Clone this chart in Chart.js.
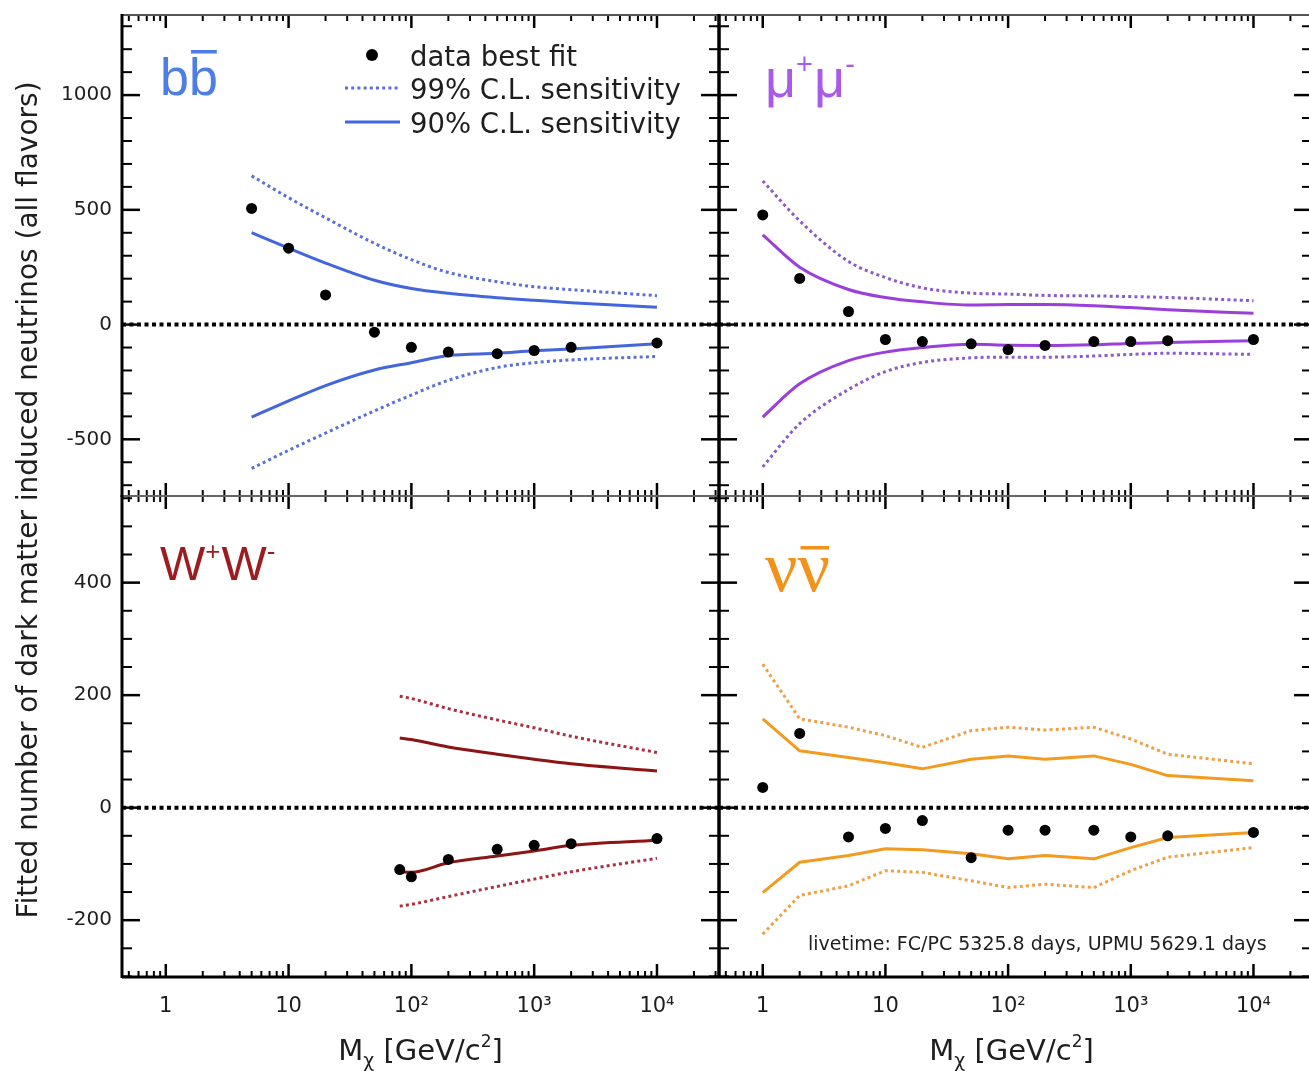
<!DOCTYPE html>
<html>
<head>
<meta charset="utf-8">
<script src="https://cdn.jsdelivr.net/npm/chart.js@4.4.1/dist/chart.umd.min.js"></script>
<style>
  html, body { margin: 0; padding: 0; background: #fff; overflow: hidden; }
  #wrap { position: relative; width: 1330px; height: 1071px; }
  #wrap canvas { position: absolute; left: 0; top: 0; }
</style>
</head>
<body>
<div id="wrap">
  <canvas id="pBB" width="1330" height="1071"></canvas>
  <canvas id="pMM" width="1330" height="1071"></canvas>
  <canvas id="pWW" width="1330" height="1071"></canvas>
  <canvas id="pNN" width="1330" height="1071"></canvas>
</div>
<script>
// ---- axis ticks ----
const xTickValues = [1, 10, 100, 1000, 10000];
const xTickLabels = ['1', '10', '10²', '10³', '10⁴'];
const yTicksTop = [-500, 0, 500, 1000];
const yTicksBottom = [-200, 0, 200, 400];

// ---- b bbar channel ----
const massBB = [5, 10, 20, 50, 100, 200, 500, 1000, 2000, 10000];
const fitBB = [506, 333, 129, -33, -99, -120, -127, -113, -99, -80];
const up90BB = [401, 333, 268, 193, 157, 136, 117, 106, 95, 76];
const lo90BB = [-403, -333, -266, -198, -166, -135, -125, -114, -106, -84];
const up99BB = [648, 553, 465, 354, 283, 227, 187, 165, 152, 126];
const lo99BB = [-627, -548, -473, -376, -307, -243, -187, -166, -154, -139];

// ---- mu+ mu- channel ----
const massMM = [1, 2, 5, 10, 20, 50, 100, 200, 500, 1000, 2000, 10000];
const fitMM = [478, 201, 57, -65, -74, -84, -109, -91, -74, -74, -70, -65];
const up90MM = [391, 250, 153, 118, 99, 85, 87, 87, 82, 74, 65, 49];
const lo90MM = [-403, -258, -157, -120, -100, -86, -90, -91, -88, -82, -78, -70];
const up99MM = [626, 452, 275, 205, 160, 137, 133, 127, 125, 122, 118, 104];
const lo99MM = [-620, -432, -283, -205, -165, -145, -142, -142, -137, -130, -125, -130];

// ---- W+ W- channel ----
const massWW = [80.4, 100, 200, 500, 1000, 2000, 10000];
const fitWW = [-110, -123, -92, -74, -67, -64, -55];
const up90WW = [124, 121, 108, 95, 86, 78, 65];
const lo90WW = [-114, -115, -98, -86, -77, -67, -58];
const up99WW = [198, 194, 176, 156, 142, 127, 98];
const lo99WW = [-175, -172, -158, -140, -127, -114, -90];

// ---- nu nubar channel ----
const massNN = [1, 2, 5, 10, 20, 50, 100, 200, 500, 1000, 2000, 10000];
const fitNN = [36, 132, -52, -37, -23, -89, -40, -40, -40, -52, -50, -44];
const up90NN = [158, 101, 89, 80, 69, 86, 92, 86, 92, 77, 57, 48];
const lo90NN = [-151, -97, -85, -73, -75, -82, -91, -85, -91, -71, -53, -44];
const up99NN = [255, 158, 143, 128, 107, 137, 143, 138, 143, 122, 95, 78];
const lo99NN = [-225, -156, -139, -112, -115, -130, -142, -136, -142, -112, -88, -71];

const SANS = '"DejaVu Sans", "Liberation Sans", sans-serif';
const ARIAL = '"Liberation Sans", Arial, sans-serif';
const SERIF = '"Liberation Serif", "DejaVu Serif", serif';
const INK = '#1e1e1e';

const COL = {
  bb: { solid: '#4466dd', dotted: '#5b70d6', label: '#4d7de6' },
  mm: { solid: '#9b3fdc', dotted: '#8d5ac8', label: '#a95ae8' },
  ww: { solid: '#8c1414', dotted: '#a8303f', label: '#9c1c1f' },
  nn: { solid: '#f39b1f', dotted: '#eea046', label: '#f2921a' }
};

const W = 1330, H = 1071;

function pts(mass, vals) { return mass.map((m, i) => ({ x: m, y: vals[i] })); }

function panelSets(mass, fit, up90, lo90, up99, lo99, col, smooth) {
  const line = (vals, color, dash) => ({
    data: pts(mass, vals), borderColor: color, borderWidth: 3, borderDash: dash,
    pointRadius: 0, fill: false, tension: 0,
    cubicInterpolationMode: smooth ? 'monotone' : 'default',
    borderCapStyle: 'butt', borderJoinStyle: 'round'
  });
  return [
    { data: pts(mass, fit), showLine: false, pointRadius: 5.5, pointHoverRadius: 5.5,
      pointBackgroundColor: '#000', pointBorderWidth: 0 },
    line(up90, col.solid, []), line(lo90, col.solid, []),
    line(up99, col.dotted, [3, 3.2]), line(lo99, col.dotted, [3, 3.2])
  ];
}

function seg(ctx, x1, y1, x2, y2) {
  ctx.beginPath(); ctx.moveTo(x1, y1); ctx.lineTo(x2, y2); ctx.stroke();
}

// inward tick marks on all four sides plus the frame
function drawFrame(chart, cfg) {
  const { ctx, chartArea: a, scales: { x, y } } = chart;
  ctx.strokeStyle = '#000';
  ctx.lineCap = 'butt';
  for (let v = Math.ceil(y.min / cfg.yMinor) * cfg.yMinor; v <= y.max; v += cfg.yMinor) {
    const p = y.getPixelForValue(v);
    const major = Math.abs(v % cfg.yMajor) < 1e-9;
    ctx.lineWidth = major ? 2.5 : 2;
    const len = major ? 18 : 10;
    seg(ctx, a.left, p, a.left + len, p);
    seg(ctx, a.right, p, a.right - len, p);
  }
  for (let d = -1; d <= 4; d++) {
    for (let k = 1; k <= 9; k++) {
      const v = k * Math.pow(10, d);
      if (v < x.min || v > x.max) continue;
      const p = x.getPixelForValue(v);
      const major = k === 1;
      ctx.lineWidth = major ? 2.5 : 2;
      const len = major ? 13 : 6;
      seg(ctx, p, a.top, p, a.top + len);
      seg(ctx, p, a.bottom, p, a.bottom - len);
    }
  }
  const b = cfg.border;
  ctx.lineWidth = b.top[0]; ctx.strokeStyle = b.top[1]; seg(ctx, a.left, a.top, a.right, a.top);
  ctx.lineWidth = b.bottom[0]; ctx.strokeStyle = b.bottom[1]; seg(ctx, a.left, a.bottom, a.right, a.bottom);
  ctx.lineWidth = b.left[0]; ctx.strokeStyle = b.left[1]; seg(ctx, a.left, a.top - 1, a.left, a.bottom + 1);
  ctx.lineWidth = b.right[0]; ctx.strokeStyle = b.right[1]; seg(ctx, a.right, a.top - 1, a.right, a.bottom + 1);
}

function decor(cfg) {
  return {
    id: 'decor_' + cfg.id,
    beforeDatasetsDraw(chart) {
      const { ctx, chartArea: a, scales: { y } } = chart;
      const y0 = y.getPixelForValue(0);
      ctx.save();
      ctx.strokeStyle = '#000'; ctx.lineWidth = 4; ctx.setLineDash([4, 3.5]);
      seg(ctx, a.left, y0, a.right, y0);
      ctx.restore();
    },
    afterDraw(chart) {
      const { ctx } = chart;
      ctx.save();
      drawFrame(chart, cfg);
      ctx.restore();
      if (cfg.extra) { ctx.save(); cfg.extra(ctx, chart); ctx.restore(); }
    }
  };
}

function xTitle(ctx, cx, base) {
  const big = '29px ' + SANS, sub = '19px ' + SANS, sup = '17px ' + SANS;
  const parts = [['M', big, 0], ['χ', sub, 7], [' [GeV/c', big, 0], ['2', sup, -13], [']', big, 0]];
  let total = 0;
  parts.forEach(p => { ctx.font = p[1]; total += ctx.measureText(p[0]).width; });
  let x = cx - total / 2;
  ctx.fillStyle = INK; ctx.textBaseline = 'alphabetic'; ctx.textAlign = 'left';
  parts.forEach(p => { ctx.font = p[1]; ctx.fillText(p[0], x, base + p[2]); x += ctx.measureText(p[0]).width; });
}

// channel label with superscript charges, e.g. mu+ mu-
function chargedPair(ctx, sym, x, base, size, supSize, supRise, color) {
  ctx.fillStyle = color; ctx.textBaseline = 'alphabetic'; ctx.textAlign = 'left';
  const big = size + 'px ' + ARIAL, small = supSize + 'px ' + ARIAL;
  [[sym, big, 0], ['+', small, supRise], [sym, big, 0], ['-', small, supRise]].forEach(p => {
    ctx.font = p[1]; ctx.fillText(p[0], x, base - p[2]); x += ctx.measureText(p[0]).width + (p[1] === small ? 1 : 0);
  });
}

function panel(cfg) {
  const a = cfg.area;
  const yw = cfg.yLabels ? a.l : 0;
  const xh = cfg.xLabels ? 44 : 0;
  return new Chart(document.getElementById(cfg.id), {
    type: 'line',
    data: { datasets: cfg.datasets },
    options: {
      responsive: false, animation: false, devicePixelRatio: 1,
      events: [],
      layout: { padding: { left: a.l - yw, top: a.t, right: W - a.r, bottom: H - a.b - xh } },
      plugins: { legend: { display: false }, tooltip: { enabled: false } },
      scales: {
        x: {
          type: 'logarithmic', position: 'bottom', min: 0.44, max: cfg.xMax,
          grid: { display: false, drawTicks: false, tickLength: 0 }, border: { display: false },
          afterBuildTicks: s => { s.ticks = xTickValues.map(v => ({ value: v })); },
          afterFit: s => { s.height = xh; s.paddingLeft = 0; s.paddingRight = 0; },
          ticks: {
            display: cfg.xLabels, autoSkip: false, maxRotation: 0, minRotation: 0, padding: 17,
            color: INK, font: { family: SANS, size: 21 },
            callback: (v, i) => xTickLabels[i]
          }
        },
        y: {
          type: 'linear', position: 'left', min: cfg.yMin, max: cfg.yMax,
          grid: { display: false, drawTicks: false, tickLength: 0 }, border: { display: false },
          afterBuildTicks: s => { s.ticks = cfg.yTicks.map(v => ({ value: v })); },
          afterFit: s => { s.width = yw; s.paddingTop = 0; s.paddingBottom = 0; },
          ticks: {
            display: cfg.yLabels, padding: 10, color: INK, font: { family: SANS, size: 20 },
            callback: v => String(v)
          }
        }
      }
    },
    plugins: [decor(cfg)]
  });
}

const frameTop = { top: [2, '#555'], bottom: [2, '#666'], left: [3, '#000'], right: [3, '#000'] };
const frameBottom = { top: [2, '#666'], bottom: [3, '#000'], left: [3, '#000'], right: [3, '#000'] };

panel({
  id: 'pBB', area: { l: 122, t: 15, r: 719, b: 496 }, xMax: 32000,
  yMin: -747, yMax: 1349, yTicks: yTicksTop, yMajor: 500, yMinor: 100,
  yLabels: true, xLabels: false, border: frameTop,
  datasets: panelSets(massBB, fitBB, up90BB, lo90BB, up99BB, lo99BB, COL.bb, true),
  extra(ctx) {
    // channel label
    ctx.fillStyle = COL.bb.label; ctx.font = '52px ' + ARIAL; ctx.textBaseline = 'alphabetic';
    const bw = ctx.measureText('b').width;
    ctx.fillText('b', 160, 95); ctx.fillText('b', 160 + bw, 95);
    ctx.fillRect(160 + bw + 2, 50, bw - 3, 3.5);
    // legend
    ctx.fillStyle = '#000'; ctx.beginPath(); ctx.arc(372, 55, 6, 0, 2 * Math.PI); ctx.fill();
    ctx.lineWidth = 3; ctx.strokeStyle = COL.bb.dotted; ctx.setLineDash([3, 3.2]); seg(ctx, 345, 88, 400, 88);
    ctx.setLineDash([]); ctx.strokeStyle = COL.bb.solid; seg(ctx, 345, 122, 400, 122);
    ctx.fillStyle = INK; ctx.font = '27.5px ' + SANS;
    ctx.fillText('data best fit', 410, 66);
    ctx.fillText('99% C.L. sensitivity', 410, 99);
    ctx.fillText('90% C.L. sensitivity', 410, 133);
    // shared y-axis title
    ctx.translate(30, 500); ctx.rotate(-Math.PI / 2);
    ctx.textAlign = 'center'; ctx.textBaseline = 'middle'; ctx.font = '28px ' + SANS;
    ctx.fillText('Fitted number of dark matter induced neutrinos (all flavors)', 0, 0);
  }
});

panel({
  id: 'pMM', area: { l: 719, t: 15, r: 1312, b: 496 }, xMax: 30000,
  yMin: -747, yMax: 1349, yTicks: yTicksTop, yMajor: 500, yMinor: 100,
  yLabels: false, xLabels: false, border: frameTop,
  datasets: panelSets(massMM, fitMM, up90MM, lo90MM, up99MM, lo99MM, COL.mm, true),
  extra(ctx) {
    chargedPair(ctx, 'μ', 765, 97, 54, 29, 23, COL.mm.label);
  }
});

panel({
  id: 'pWW', area: { l: 122, t: 496, r: 719, b: 977 }, xMax: 32000,
  yMin: -301, yMax: 554, yTicks: yTicksBottom, yMajor: 200, yMinor: 50,
  yLabels: true, xLabels: true, border: frameBottom,
  datasets: panelSets(massWW, fitWW, up90WW, lo90WW, up99WW, lo99WW, COL.ww, true),
  extra(ctx, chart) {
    chargedPair(ctx, 'W', 160, 580, 48, 26, 20, COL.ww.label);
    const a = chart.chartArea;
    xTitle(ctx, (a.left + a.right) / 2, 1060);
  }
});

panel({
  id: 'pNN', area: { l: 719, t: 496, r: 1312, b: 977 }, xMax: 30000,
  yMin: -301, yMax: 554, yTicks: yTicksBottom, yMajor: 200, yMinor: 50,
  yLabels: false, xLabels: true, border: frameBottom,
  datasets: panelSets(massNN, fitNN, up90NN, lo90NN, up99NN, lo99NN, COL.nn, false),
  extra(ctx, chart) {
    ctx.fillStyle = COL.nn.label; ctx.font = '72px ' + SERIF; ctx.textBaseline = 'alphabetic';
    const nw = ctx.measureText('ν').width;
    ctx.fillText('ν', 765, 591); ctx.fillText('ν', 765 + nw, 591);
    ctx.fillRect(765 + nw + 3, 546, nw - 4, 3.5);
    ctx.fillStyle = INK; ctx.font = '19px ' + SANS;
    ctx.fillText('livetime: FC/PC 5325.8 days, UPMU 5629.1 days', 808, 950);
    const a = chart.chartArea;
    xTitle(ctx, (a.left + a.right) / 2 - 4, 1060);
  }
});
</script>
</body>
</html>
